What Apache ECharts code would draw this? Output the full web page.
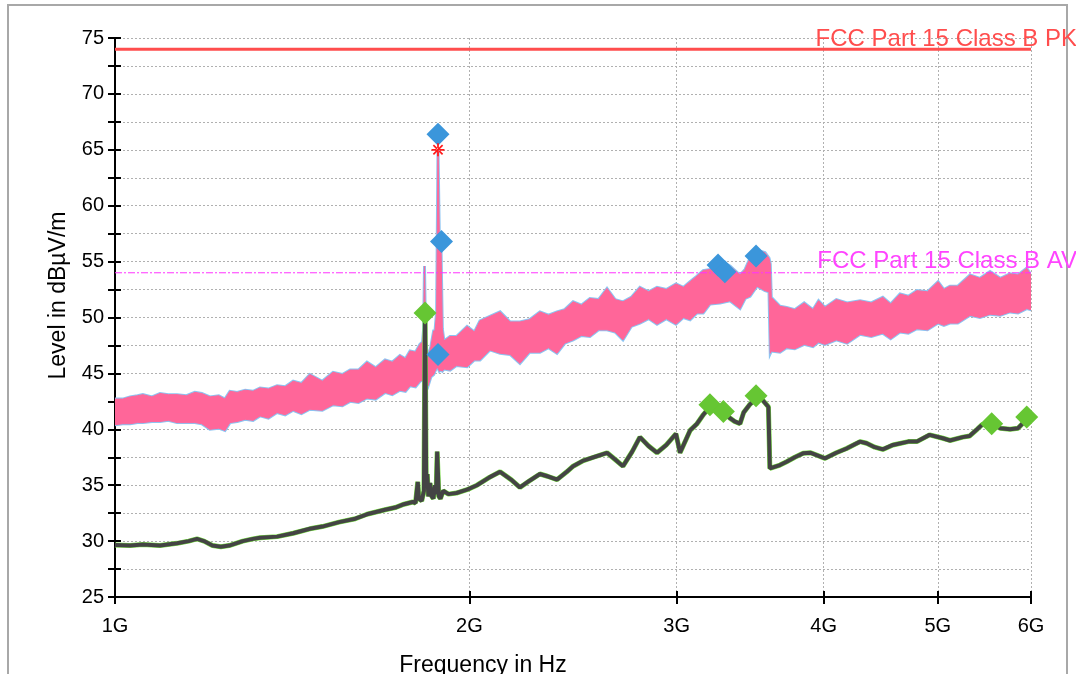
<!DOCTYPE html>
<html><head><meta charset="utf-8">
<script src="https://cdn.jsdelivr.net/npm/echarts@6/dist/echarts.min.js"></script>
<style>html,body{margin:0;padding:0;background:#fff}#c{width:1076px;height:674px}</style>
</head><body><div id="c"></div>
<script>
// ---------- data (frequency in GHz, level in dBµV/m) ----------
const xTickGHz = [1, 2, 3, 4, 5, 6];
const xTickLabels = ['1G', '2G', '3G', '4G', '5G', '6G'];
const yMin = 25, yMax = 75, yStep = 2.5;
const limitPK = 74, limitAV = 54;
const limitPKName = 'FCC Part 15 Class B PK';
const limitAVName = 'FCC Part 15 Class B AV';
const xAxisName = 'Frequency in Hz';
const yAxisName = 'Level in dBµV/m';

// peak trace envelope (upper / lower edge of the noisy band)
const peakFreq = [1.000,1.015,1.030,1.045,1.056,1.075,1.092,1.110,1.129,1.150,1.169,1.185,1.204,1.225,1.240,1.252,1.270,1.290,1.310,1.328,1.350,1.373,1.395,1.417,1.440,1.464,1.500,1.532,1.560,1.584,1.610,1.637,1.665,1.696,1.720,1.746,1.765,1.781,1.800,1.816,1.825,1.829,1.832,1.836,1.845,1.855,1.865,1.870,1.876,1.881,1.886,1.892,1.897,1.903,1.926,1.950,1.991,2.020,2.042,2.082,2.124,2.166,2.208,2.250,2.296,2.335,2.374,2.410,2.450,2.490,2.532,2.575,2.618,2.660,2.701,2.745,2.792,2.840,2.887,2.940,2.996,3.040,3.080,3.122,3.160,3.202,3.266,3.330,3.396,3.430,3.463,3.511,3.566,3.594,3.603,3.610,3.672,3.720,3.780,3.850,3.917,3.960,4.010,4.100,4.187,4.295,4.390,4.490,4.560,4.644,4.720,4.800,4.900,5.003,5.060,5.120,5.200,5.326,5.430,5.538,5.650,5.759,5.850,5.950,6.000];
const peakHi = [42.7,42.7,42.9,43.0,43.1,42.9,43.2,43.1,43.1,43.0,43.3,43.2,42.9,43.0,42.7,43.4,43.3,43.5,43.4,43.7,43.6,43.9,43.8,44.3,44.1,44.9,44.3,45.1,44.9,45.3,45.3,46.0,45.5,46.2,46.0,46.6,46.3,47.0,46.9,47.6,47.8,49.0,54.6,47.8,46.3,47.4,48.8,48.8,50.5,65.0,57.0,56.5,49.0,47.9,48.3,48.3,49.2,48.7,49.7,50.1,50.5,49.6,49.6,49.8,50.5,50.2,50.5,50.7,51.4,51.1,51.7,51.6,52.6,51.6,51.4,51.8,52.7,52.3,52.7,52.5,53.0,52.7,53.2,53.7,54.2,54.3,55.0,54.6,53.8,54.3,55.3,56.0,55.8,55.3,54.8,51.8,51.0,50.9,50.7,51.3,50.7,51.5,50.9,51.6,51.3,51.5,51.3,51.8,51.2,52.1,51.9,52.4,52.3,53.2,52.5,52.8,52.8,53.8,53.5,54.1,53.5,53.9,53.8,54.4,53.8];
const peakLo = [40.4,40.5,40.5,40.6,40.6,40.7,40.7,40.8,40.6,40.6,40.6,40.5,40.0,40.1,39.9,40.6,40.7,40.9,40.8,41.2,41.0,41.5,41.3,41.7,41.4,41.8,41.7,42.2,42.1,42.5,42.4,42.8,42.7,43.3,43.1,43.5,43.4,43.9,43.8,44.3,44.4,45.2,45.4,44.4,43.9,44.7,44.9,45.2,45.5,45.5,45.2,45.3,45.2,45.4,45.3,45.7,45.6,46.2,46.2,47.1,46.8,46.7,45.9,46.9,46.9,47.3,46.8,47.7,48.0,48.4,48.3,48.9,48.9,48.7,48.0,49.2,49.5,49.9,49.4,49.9,49.4,50.0,49.8,50.4,50.4,51.2,51.3,51.5,50.8,51.7,51.9,52.8,52.4,52.3,46.8,47.0,46.9,47.3,47.2,47.6,47.4,47.8,47.6,48.0,47.7,48.5,48.3,48.6,48.1,48.7,48.6,49.0,48.9,49.5,49.3,49.5,49.5,50.2,50.0,50.3,50.2,50.5,50.4,50.8,50.7];

// average trace
const avgFreq = [1.000,1.030,1.056,1.092,1.129,1.155,1.174,1.190,1.210,1.230,1.250,1.284,1.310,1.328,1.373,1.417,1.464,1.500,1.550,1.600,1.637,1.696,1.730,1.760,1.790,1.800,1.808,1.812,1.822,1.830,1.834,1.838,1.842,1.846,1.852,1.858,1.864,1.870,1.874,1.878,1.884,1.890,1.900,1.920,1.950,1.991,2.030,2.080,2.124,2.170,2.208,2.250,2.296,2.330,2.374,2.420,2.450,2.500,2.550,2.618,2.660,2.701,2.750,2.792,2.840,2.887,2.940,2.996,3.020,3.080,3.122,3.160,3.202,3.250,3.287,3.330,3.360,3.396,3.420,3.460,3.510,3.550,3.590,3.600,3.672,3.720,3.780,3.842,3.900,4.010,4.100,4.187,4.295,4.350,4.420,4.490,4.580,4.720,4.800,4.920,5.050,5.120,5.250,5.320,5.400,5.450,5.556,5.650,5.759,5.850,5.950,6.000];
const avgLevel = [29.65,29.6,29.7,29.6,29.8,30.0,30.2,30.0,29.6,29.5,29.6,30.0,30.2,30.3,30.4,30.7,31.1,31.3,31.7,32.0,32.4,32.8,33.0,33.3,33.5,33.4,35.3,33.8,33.6,34.5,50.4,35.5,36.0,34.0,35.2,34.0,33.8,35.0,34.2,38.0,34.0,33.8,34.5,34.2,34.3,34.6,35.0,35.7,36.2,35.5,34.8,35.4,36.0,35.8,35.5,36.2,36.7,37.2,37.5,37.9,37.3,36.7,38.0,39.3,38.5,37.9,38.6,39.6,37.9,39.9,40.5,41.3,42.0,41.8,41.5,41.0,40.7,40.5,41.5,42.2,42.8,42.6,42.0,36.5,36.8,37.1,37.5,37.85,37.9,37.4,37.9,38.3,38.9,38.75,38.4,38.2,38.6,38.9,38.9,39.5,39.2,39.0,39.3,39.4,40.0,40.4,40.5,40.1,40.0,40.1,40.9,41.0];

// markers
const peakMarkFreq = [1.881, 1.894, 1.881, 3.253, 3.297, 3.504];
const peakMarkLevel = [66.4, 56.8, 46.7, 54.7, 54.1, 55.5];
const avgMarkFreq = [1.834, 3.202, 3.287, 3.504, 5.556, 5.950];
const avgMarkLevel = [50.4, 42.2, 41.6, 43.0, 40.5, 41.1];
const starFreq = [1.881];
const starLevel = [65.0];

// ---------- chart ----------
const lg = Math.log10;
const X0 = lg(xTickGHz[0]), X1 = lg(xTickGHz[xTickGHz.length - 1]);
const tickVals = xTickGHz.map(lg);
const font = 'Liberation Sans, Arial, sans-serif';

function bandRenderer(fill, lw) {
  return function (params, api) {
    if (params.dataIndex !== 0) return null;
    const pts = [];
    for (let i = 0; i < peakFreq.length; i++) pts.push(api.coord([lg(peakFreq[i]), peakHi[i]]));
    for (let i = peakFreq.length - 1; i >= 0; i--) pts.push(api.coord([lg(peakFreq[i]), peakLo[i]]));
    return { type: 'polygon', shape: { points: pts }, style: { fill: fill, stroke: fill, lineWidth: lw, lineJoin: 'miter' } };
  };
}
const bandData = peakFreq.map((f, i) => [lg(f), peakHi[i], peakLo[i]]);

const starPath = 'path://M-0.8,-6 L0.8,-6 L0.8,6 L-0.8,6 Z M-6,-0.8 L6,-0.8 L6,0.8 L-6,0.8 Z M-4.8,-3.7 L3.7,4.8 L4.8,3.7 L-3.7,-4.8 Z M-4.8,3.7 L3.7,-4.8 L4.8,-3.7 L-3.7,4.8 Z';

const yLabelFmt = v => (Math.abs(v % 5) < 1e-6 ? String(v) : '');
const chart = echarts.init(document.getElementById('c'), null, { renderer: 'canvas' });
const option = {
  animation: false,
  backgroundColor: '#ffffff',
  grid: { left: 115, right: 45, top: 38, bottom: 77, containLabel: false, outerBoundsMode: 'none' },
  xAxis: [{
    type: 'value', min: X0, max: X1, position: 'bottom',
    name: xAxisName, nameLocation: 'middle', nameGap: 57,
    nameTextStyle: { fontFamily: font, fontSize: 23, color: '#000', padding: [0, 180, 0, 0] },
    axisLine: { show: true, onZero: false, lineStyle: { color: '#000', width: 2 } },
    axisTick: { show: true, customValues: tickVals, length: 7, lineStyle: { color: '#000', width: 2 } },
    axisLabel: { show: true, customValues: tickVals, margin: 19, fontFamily: font, fontSize: 20, color: '#000',
      formatter: v => xTickLabels[tickVals.findIndex(t => Math.abs(t - v) < 1e-6)] || '' },
    splitLine: { show: true, lineStyle: { color: '#b0b0b0', width: 1, type: [2, 2] } }
  }, {
    type: 'value', min: X0, max: X1, position: 'bottom',
    axisLine: { show: false }, axisLabel: { show: false }, splitLine: { show: false },
    axisTick: { show: true, inside: true, customValues: tickVals, length: 6, lineStyle: { color: '#000', width: 2 } }
  }],
  yAxis: [{
    type: 'value', min: yMin, max: yMax, interval: yStep, position: 'left',
    name: yAxisName, nameLocation: 'middle', nameGap: 45, nameRotate: 90,
    nameTextStyle: { fontFamily: font, fontSize: 23, color: '#000', padding: [0, 0, 0, 44] },
    axisLine: { show: true, onZero: false, lineStyle: { color: '#000', width: 2 } },
    axisTick: { show: true, length: 7, lineStyle: { color: '#000', width: 2 } },
    axisLabel: { show: true, margin: 11, fontFamily: font, fontSize: 20, color: '#000', formatter: yLabelFmt },
    splitLine: { show: true, lineStyle: { color: '#b0b0b0', width: 1, type: [2, 2] } }
  }, {
    type: 'value', min: yMin, max: yMax, interval: yStep, position: 'left',
    axisLine: { show: false }, axisLabel: { show: false }, splitLine: { show: false },
    axisTick: { show: true, inside: true, length: 6, lineStyle: { color: '#000', width: 2 } }
  }],
  series: [
    { type: 'custom', name: 'MaxPeak', data: bandData, renderItem: bandRenderer('#8cc4f2', 3), clip: true, z: 2 },
    { type: 'custom', name: 'Peak', data: bandData, renderItem: bandRenderer('#ff6699', 1), clip: true, z: 3 },
    { type: 'line', name: 'AvgUnder', data: avgFreq.map((f, i) => [lg(f), avgLevel[i]]), showSymbol: false, symbol: 'none',
      lineStyle: { color: '#77dd44', width: 5 }, z: 4, clip: true },
    { type: 'line', name: 'Average', data: avgFreq.map((f, i) => [lg(f), avgLevel[i]]), showSymbol: false, symbol: 'none',
      lineStyle: { color: '#444444', width: 4 }, z: 5, clip: true },
    { type: 'line', name: limitPKName, data: [[X0, limitPK], [X1, limitPK]], symbol: 'none',
      lineStyle: { color: '#ff4d4d', width: 3 }, z: 6 },
    { type: 'line', name: limitAVName, data: [[X0, limitAV], [X1, limitAV]], symbol: 'none',
      lineStyle: { color: '#ff33ff', width: 1, type: [7, 2, 2, 2] }, z: 6 },
    { type: 'scatter', name: 'PeakMarks', data: peakMarkFreq.map((f, i) => [lg(f), peakMarkLevel[i]]),
      symbol: 'diamond', symbolSize: 23, itemStyle: { color: '#3b96db', opacity: 1 }, z: 8 },
    { type: 'scatter', name: 'AvgMarks', data: avgMarkFreq.map((f, i) => [lg(f), avgMarkLevel[i]]),
      symbol: 'diamond', symbolSize: 23, itemStyle: { color: '#66c633', opacity: 1 }, z: 8 },
    { type: 'scatter', name: 'Star', data: starFreq.map((f, i) => [lg(f), starLevel[i]]),
      symbol: starPath, symbolSize: 13, itemStyle: { color: '#ff1a1a', opacity: 1 }, z: 9 }
  ]
};
chart.setOption(option);

// limit line labels and frame
const pk = chart.convertToPixel({ xAxisIndex: 0, yAxisIndex: 0 }, [X1, limitPK]);
const av = chart.convertToPixel({ xAxisIndex: 0, yAxisIndex: 0 }, [X1, limitAV]);
chart.setOption({
  graphic: [
    { type: 'polyline', shape: { points: [[8, 674], [8, 5], [1067, 5], [1067, 674]] }, style: { fill: 'none', stroke: '#a8a8a8', lineWidth: 2 }, silent: true, z: 100 },
    { type: 'text', x: 1077, y: pk[1] + 2, style: { text: limitPKName, fill: '#ff4d4d', font: '24px ' + font, textAlign: 'right', textVerticalAlign: 'bottom' }, z: 110 },
    { type: 'text', x: 1077, y: av[1] + 1, style: { text: limitAVName, fill: '#ff44ff', font: '24px ' + font, textAlign: 'right', textVerticalAlign: 'bottom' }, z: 110 }
  ]
});
</script>
</body></html>
